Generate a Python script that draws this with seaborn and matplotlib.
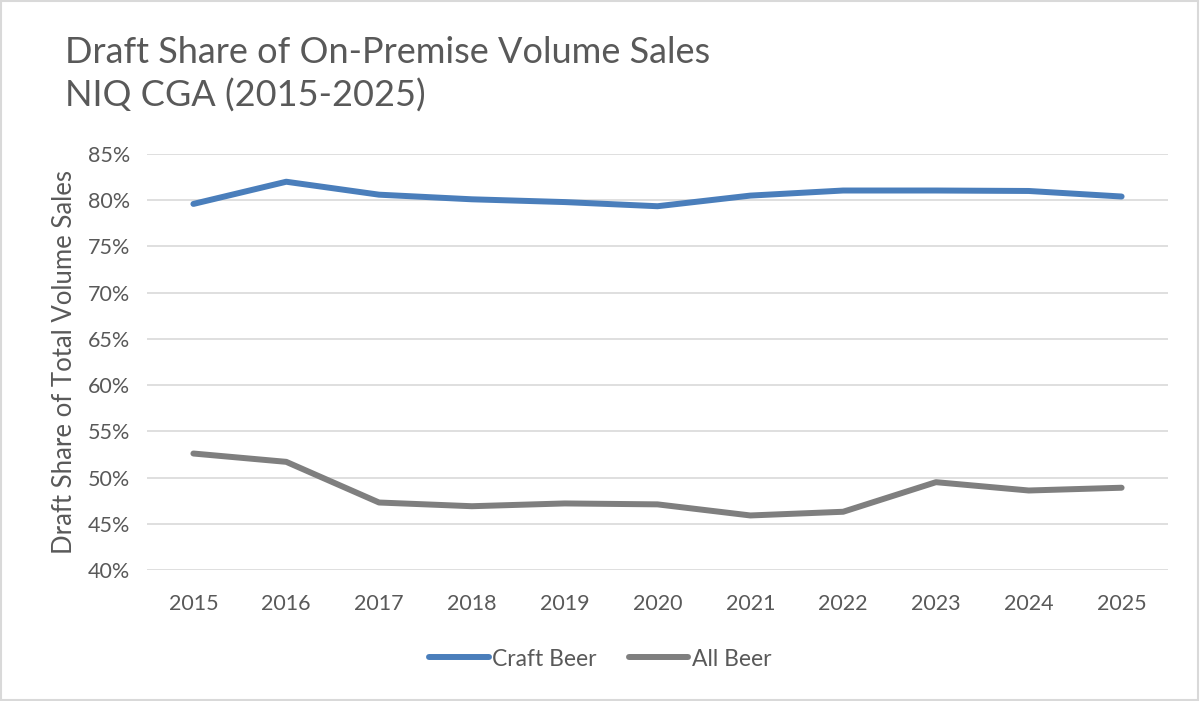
import pandas as pd
import matplotlib.pyplot as plt
import seaborn as sns
from matplotlib.patches import Rectangle
from matplotlib.ticker import FuncFormatter

years = ['2015', '2016', '2017', '2018', '2019', '2020', '2021', '2022', '2023', '2024', '2025']
craft_beer = [79.6, 82.0, 80.6, 80.1, 79.8, 79.35, 80.5, 81.05, 81.05, 81.0, 80.4]
all_beer = [52.6, 51.7, 47.3, 46.9, 47.2, 47.1, 45.9, 46.3, 49.5, 48.6, 48.9]
series_names = ['Craft Beer', 'All Beer']
series_colors = ['#4a7ebb', '#7f7f7f']

#long form table for seaborn
df = pd.DataFrame({
    'pos': list(range(len(years))) * 2,
    'share': craft_beer + all_beer,
    'series': [series_names[0]] * len(years) + [series_names[1]] * len(years),
})

sns.set_style('white')
plt.rcParams['font.family'] = ['Lato', 'DejaVu Sans']
text_color = '#595959'

fig = plt.figure(figsize=(12, 7.01), dpi=100)
ax = fig.add_axes([147 / 1200, 1 - 570 / 701, 1021 / 1200, 416 / 701])

sns.lineplot(data=df, x='pos', y='share', hue='series', palette=series_colors,
             linewidth=4.3, ax=ax, legend=False, solid_capstyle='round')

ax.set_xlim(-0.5, len(years) - 0.5)
ax.set_ylim(40, 85)
ax.set_yticks(range(40, 86, 5))
ax.yaxis.set_major_formatter(FuncFormatter(lambda v, p: '{:.0f}%'.format(v)))
ax.set_xticks(range(len(years)))
ax.set_xticklabels(years)
ax.tick_params(axis='both', length=0, labelsize=15.5, labelcolor=text_color)
ax.tick_params(axis='x', pad=17)
ax.tick_params(axis='y', pad=12)
ax.grid(axis='y', color='#d9d9d9', linewidth=1.2)
ax.set_axisbelow(True)
for s in ax.spines.values():
    s.set_visible(False)
ax.set_xlabel('')
ax.set_ylabel('Draft Share of Total Volume Sales', fontsize=18.5, color=text_color, labelpad=8)

fig.text(65 / 1200, 1 - 36 / 701, 'Draft Share of On-Premise Volume Sales\nNIQ CGA (2015-2025)',
         fontsize=26, color=text_color, va='top', ha='left', linespacing=1.35)

handles = [plt.Line2D([], [], color=c, linewidth=4.3, solid_capstyle='round') for c in series_colors]
fig.legend(handles, series_names, loc='center', bbox_to_anchor=(0.5, 1 - 659 / 701), ncol=2,
           frameon=False, fontsize=16.5, labelcolor=text_color, handlelength=2.6,
           handletextpad=0.15, columnspacing=1.4)

fig.patches.append(Rectangle((0.001, 0.001), 0.997, 0.997, transform=fig.transFigure,
                             fill=False, edgecolor='#d9d9d9', linewidth=1.5))

fig.savefig('out.png', dpi=100)
